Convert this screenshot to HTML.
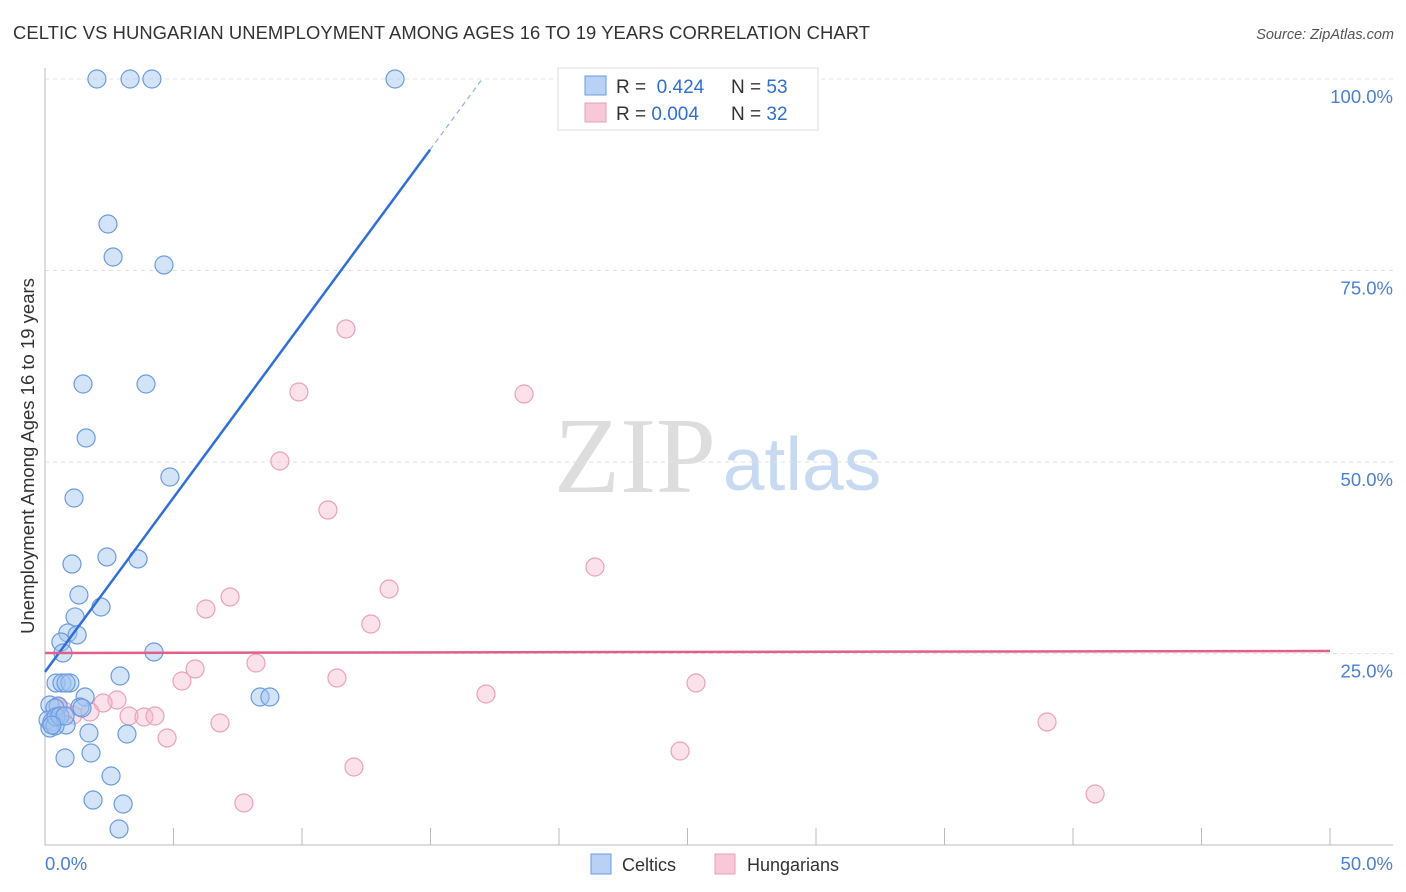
<!DOCTYPE html>
<html><head><meta charset="utf-8"><style>
body{margin:0;background:#fff;font-family:"Liberation Sans",sans-serif;}
svg{display:block}
</style></head><body>
<svg id="chart" width="1406" height="892">
<text x="13" y="39" font-size="18.4" fill="#333" textLength="857">CELTIC VS HUNGARIAN UNEMPLOYMENT AMONG AGES 16 TO 19 YEARS CORRELATION CHART</text>
<text x="1394" y="39" font-size="14.5" fill="#555" font-style="italic" text-anchor="end">Source: ZipAtlas.com</text>
<text x="34" y="456" font-size="18.5" fill="#333" text-anchor="middle" transform="rotate(-90 34 456)">Unemployment Among Ages 16 to 19 years</text>
<g>
<text x="635" y="492" font-size="108" font-family="Liberation Serif,serif" fill="#ddd" text-anchor="middle">ZIP</text>
<text x="802" y="490" font-size="75" fill="#c8daf2" text-anchor="middle">atlas</text>
</g>
<g id="grid"></g>
<g id="axes"></g>
<g id="pts"></g>
<g id="trend"></g>
<g>
<rect x="558" y="68" width="260" height="62" fill="#fff" stroke="#ddd"/>
<rect x="585" y="76" width="21" height="19" fill="#b8d1f5" stroke="#6b9be0"/>
<rect x="585" y="103" width="21" height="19" fill="#f8c8d8" stroke="#e8a0b8"/>
<text x="616" y="93" font-size="19" fill="#333">R = <tspan fill="#2f6fd0">&#160;0.424</tspan><tspan x="731">N = </tspan><tspan fill="#2f6fd0">53</tspan></text>
<text x="616" y="120" font-size="19" fill="#333">R = <tspan fill="#2f6fd0">0.004</tspan><tspan x="731">N = </tspan><tspan fill="#2f6fd0">32</tspan></text>
</g>
<g>
<rect x="591" y="854" width="20" height="20" fill="#b8d1f5" stroke="#6b9be0"/>
<text x="622" y="871" font-size="18" fill="#333">Celtics</text>
<rect x="715" y="854" width="20" height="20" fill="#f8c8d8" stroke="#e8a0b8"/>
<text x="747" y="871" font-size="18" fill="#333">Hungarians</text>
</g>
</svg>
<script>
const yTicks=[25,50,75,100];
const yTickLabels=["25.0%","50.0%","75.0%","100.0%"];
const xTickLabels=["0.0%","50.0%"];
const celticsX=[2.02,3.31,4.16,13.62,2.45,2.65,4.63,1.48,3.93,1.60,4.86,1.13,1.05,2.41,3.62,1.32,2.18,1.17,0.89,1.25,0.62,0.70,4.24,2.92,0.43,0.66,0.97,0.82,1.56,0.19,0.51,1.36,0.39,8.37,8.75,1.44,0.12,0.27,0.82,0.19,0.39,1.71,3.19,1.79,0.78,2.57,1.87,3.04,2.88,0.43,0.58,0.78,0.27];
const celticsY=[100,100,100,100,81.07,76.76,75.72,60.18,60.18,53.13,48.04,45.30,36.68,37.60,37.34,32.64,31.07,29.77,27.68,27.42,26.50,25.07,25.20,22.06,21.15,21.15,21.15,21.15,19.32,18.28,18.15,18.02,17.89,19.32,19.32,17.89,16.32,16.06,15.67,15.27,15.54,14.62,14.49,12.01,11.36,9.01,5.87,5.35,2.09,16.71,16.84,16.84,15.67];
const hungX=[11.71,9.88,18.64,9.14,11.01,21.40,13.39,7.20,6.26,12.68,8.21,5.84,5.33,11.36,17.16,25.33,2.80,2.26,1.75,3.27,3.85,4.28,0.74,1.09,6.81,38.99,4.75,24.71,12.02,7.74,40.86,0.51];
const hungY=[67.36,59.14,58.88,50.13,43.73,36.29,33.42,32.38,30.81,28.85,23.76,22.98,21.41,21.80,19.71,21.15,18.93,18.54,17.36,16.84,16.71,16.84,17.49,16.97,15.93,16.06,13.97,12.27,10.18,5.48,6.66,18.02];
const celticsTrend=[22.6,4.55];
const hungTrend=[25.07,0.0052];

const X0=45,X1=1330,Y0=845,Y100=79;
const sx=v=>X0+(v/50)*(X1-X0);
const sy=v=>Y0-(v/100)*(Y0-Y100);
const NS="http://www.w3.org/2000/svg";
function mk(t,a,p){const e=document.createElementNS(NS,t);for(const k in a)e.setAttribute(k,a[k]);p.appendChild(e);return e;}
const grid=document.getElementById('grid'),axes=document.getElementById('axes'),pts=document.getElementById('pts'),tr=document.getElementById('trend');
yTicks.forEach((v,i)=>{
 const l=mk('line',{x1:X0,x2:1393,y1:sy(v),y2:sy(v),stroke:'#e2e2e2','stroke-dasharray':'4,4'},grid);
 
 
 const t=mk('text',{x:1393,y:sy(v)+24,'font-size':18.5,fill:'#4a7fd4','text-anchor':'end'},axes);
 t.textContent=yTickLabels[i];
 
 
});
const la=mk('line',{x1:X0,x2:X0,y1:68,y2:Y0,stroke:'#bbb'},axes);


const ba=mk('line',{x1:X0,x2:1393,y1:Y0,y2:Y0,stroke:'#bbb'},axes);


for(let i=1;i<=10;i++){
 const tk=mk('line',{x1:sx(i*5),x2:sx(i*5),y1:828,y2:Y0,stroke:'#bbb'},axes);
 
 
}
const xl0=mk('text',{x:45,y:870,'font-size':18.5,fill:'#4a7fd4'},axes);xl0.textContent=xTickLabels[0];


const xl1=mk('text',{x:1393,y:870,'font-size':18.5,fill:'#4a7fd4','text-anchor':'end'},axes);xl1.textContent=xTickLabels[1];



hungX.forEach((x,i)=>{
 const c=mk('circle',{cx:sx(x),cy:sy(hungY[i]),r:9,fill:'rgba(246,180,202,0.4)',stroke:'#eaa2bb','stroke-width':1.2},pts);
 
 
});
celticsX.forEach((x,i)=>{
 const c=mk('circle',{cx:sx(x),cy:sy(celticsY[i]),r:9,fill:'rgba(160,195,240,0.45)',stroke:'#6b9be0','stroke-width':1.2},pts);
 
 
});
const maxCX=Math.max(...celticsX);
const xEnd=(100-celticsTrend[0])/celticsTrend[1];
const bl=mk('line',{x1:sx(0),y1:sy(celticsTrend[0]),x2:sx(maxCX*1.1),y2:sy(celticsTrend[0]+celticsTrend[1]*maxCX*1.1),stroke:'#2f6fd6','stroke-width':2.5},tr);


const bd=mk('line',{x1:sx(maxCX*1.1),y1:sy(celticsTrend[0]+celticsTrend[1]*maxCX*1.1),x2:sx(xEnd),y2:sy(100),stroke:'#8fb0e6','stroke-width':1.2,'stroke-dasharray':'5,4'},tr);


const pl=mk('line',{x1:sx(0),y1:sy(hungTrend[0]),x2:sx(50),y2:sy(hungTrend[0]+hungTrend[1]*50),stroke:'#e0608a','stroke-width':2.5},tr);


</script>
</body></html>
